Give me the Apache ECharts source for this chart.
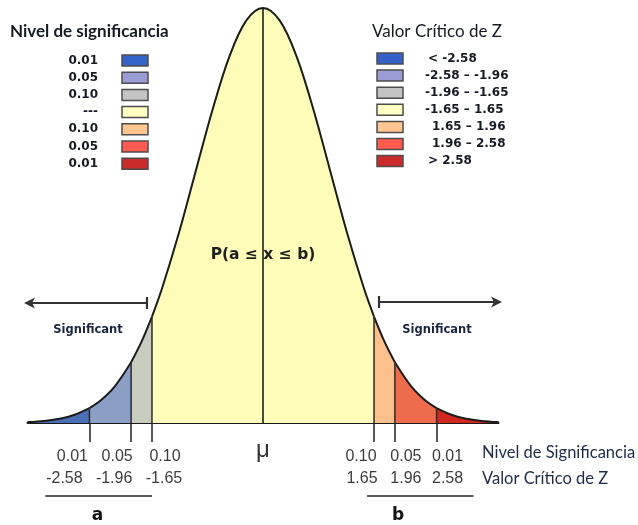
<!DOCTYPE html>
<html>
<head>
<meta charset="utf-8">
<script src="https://cdn.jsdelivr.net/npm/echarts/dist/echarts.min.js"></script>
<style>
  html, body { margin: 0; padding: 0; background: #ffffff; }
  #chart { width: 638px; height: 525px; }
</style>
</head>
<body>
<div id="chart"></div>
<script>
// Standard normal density, tabulated at the points used to draw the bell curve
const zValues = [-3.5, -3.25, -3.0, -2.8, -2.58, -2.4, -2.2, -1.96, -1.8, -1.65, -1.5, -1.25, -1.0, -0.75, -0.5, -0.25, 0,
                 0.25, 0.5, 0.75, 1.0, 1.25, 1.5, 1.65, 1.8, 1.96, 2.2, 2.4, 2.58, 2.8, 3.0, 3.25, 3.5];
const density = [0.0009, 0.0020, 0.0044, 0.0079, 0.0143, 0.0224, 0.0355, 0.0584, 0.0790, 0.1023, 0.1295, 0.1826, 0.2420, 0.3011, 0.3521, 0.3867, 0.3989,
                 0.3867, 0.3521, 0.3011, 0.2420, 0.1826, 0.1295, 0.1023, 0.0790, 0.0584, 0.0355, 0.0224, 0.0143, 0.0079, 0.0044, 0.0020, 0.0009];

// Critical values of Z and their significance levels
const criticalZ = [-2.58, -1.96, -1.65, 1.65, 1.96, 2.58];
const criticalLabels = ['-2.58', '-1.96', '-1.65', '1.65', '1.96', '2.58'];
const significance = ['0.01', '0.05', '0.10', '0.10', '0.05', '0.01'];
const meanZ = 0;

// Shaded regions under the curve
const regionBounds = [[-3.5, -2.58], [-2.58, -1.96], [-1.96, -1.65], [-1.65, 1.65], [1.65, 1.96], [1.96, 2.58], [2.58, 3.5]];

// Legend texts
const legendSignificance = ['0.01', '0.05', '0.10', '---', '0.10', '0.05', '0.01'];
const legendCritical = ['< -2.58', '-2.58 \u2013 -1.96', '-1.96 \u2013 -1.65', '-1.65 \u2013 1.65', '1.65 \u2013 1.96', '1.96 \u2013 2.58', '> 2.58'];

// ---- styling ----
const regionFill = ['#4a6fb6', '#8a9ec6', '#c8ccbe', '#fdfdb9', '#fbc08b', '#ee6b4c', '#d0281f'];
const swatchFill = ['#3462c8', '#9b9bd5', '#c3c3c3', '#ffffc3', '#ffc692', '#ff5b51', '#cb2b2b'];
const sigShift = [-17, -14, 13, -13, 11, 11];
const critShift = [-25, -17, 12, -12, 11, 11];
const critIndent = [3, 0, 0, 0, 7, 7, 3];
const inkColor = '#151a24';
const navyColor = '#1f2b4a';

function densityAt(z) {
  const i = zValues.findIndex(v => Math.abs(v - z) < 1e-9);
  return density[i];
}

const series = [];
regionBounds.forEach((b, k) => {
  const pts = zValues.map((z, i) => [z, density[i]]).filter(p => p[0] >= b[0] - 1e-9 && p[0] <= b[1] + 1e-9);
  series.push({
    type: 'line', name: 'region' + k, data: pts, smooth: 0.35, symbol: 'none', clip: false, silent: true, z: 2,
    lineStyle: { color: '#1c1c1c', width: 2 },
    areaStyle: { color: regionFill[k], opacity: 1 }
  });
});
criticalZ.forEach(z => {
  series.push({
    type: 'line', data: [[z, 0], [z, densityAt(z)]], symbol: 'none', clip: false, silent: true, z: 3,
    lineStyle: { color: '#2a2a2a', width: 1.5 }
  });
});
series.push({
  type: 'line', data: [[meanZ, 0], [meanZ, densityAt(meanZ)]], symbol: 'none', clip: false, silent: true, z: 3,
  lineStyle: { color: '#111111', width: 1.5 }
});

const chart = echarts.init(document.getElementById('chart'), null, { renderer: 'canvas' });
chart.setOption({
  animation: false,
  backgroundColor: '#ffffff',
  grid: { left: 27.5, top: 8, width: 471, height: 415 },
  xAxis: {
    type: 'value', min: -3.5, max: 3.5,
    axisLine: { show: true, onZero: false, lineStyle: { color: '#1a1a1a', width: 2 } },
    axisTick: { show: true, customValues: criticalZ, length: 19, lineStyle: { color: '#222', width: 1.5 } },
    axisLabel: { show: false },
    splitLine: { show: false }
  },
  yAxis: { type: 'value', min: 0, max: 0.3989, show: false },
  series: series
});

function px(z, d) { return chart.convertToPixel({ gridIndex: 0 }, [z, d]); }

const g = [];
const baseY = px(0, 0)[1];

// tick labels under the axis
criticalZ.forEach((z, i) => {
  const x = px(z, 0)[0];
  g.push({ type: 'text', x: x + sigShift[i], y: baseY + 34, style: { text: significance[i], font: '16px "Liberation Sans"', fill: '#3c3c3c', align: 'center', verticalAlign: 'middle' } });
  g.push({ type: 'text', x: x + critShift[i], y: baseY + 55.5, style: { text: criticalLabels[i], font: '16px "Liberation Sans"', fill: '#3c3c3c', align: 'center', verticalAlign: 'middle' } });
});
g.push({ type: 'text', x: px(meanZ, 0)[0], y: baseY + 27, style: { text: '\u03bc', font: '24px "Liberation Sans"', fill: '#333', align: 'center', verticalAlign: 'middle' } });

// row titles on the right of the axis labels
g.push({ type: 'text', x: 482, y: baseY + 30, style: { text: 'Nivel de Significancia', font: '16.5px Lato', fill: navyColor, verticalAlign: 'middle' } });
g.push({ type: 'text', x: 482, y: baseY + 55.5, style: { text: 'Valor Cr\u00edtico de Z', font: '16.5px Lato', fill: navyColor, verticalAlign: 'middle' } });

// bracket bars with a / b
const xa0 = px(criticalZ[0], 0)[0], xa1 = px(criticalZ[2], 0)[0];
const xb0 = px(criticalZ[3], 0)[0], xb1 = px(criticalZ[5], 0)[0];
g.push({ type: 'line', shape: { x1: xa0 - 44, y1: baseY + 73, x2: xa1, y2: baseY + 73 }, style: { stroke: '#222', lineWidth: 1.5 } });
g.push({ type: 'line', shape: { x1: xb0 - 7, y1: baseY + 73, x2: xb1 + 37, y2: baseY + 73 }, style: { stroke: '#222', lineWidth: 1.5 } });
g.push({ type: 'text', x: xa0 + 8, y: baseY + 93, style: { text: 'a', font: 'bold 17px "DejaVu Sans"', fill: '#111', align: 'center', verticalAlign: 'middle' } });
g.push({ type: 'text', x: xb0 + 24, y: baseY + 93, style: { text: 'b', font: 'bold 17px "DejaVu Sans"', fill: '#111', align: 'center', verticalAlign: 'middle' } });

// "Significant" arrows
const xl = px(criticalZ[2], 0)[0] - 5, xr = px(criticalZ[3], 0)[0] + 5;
const xL = px(-3.5, 0)[0] - 3.5, xR = px(3.5, 0)[0] + 3.5;
const arrowY = 303;
g.push({ type: 'line', shape: { x1: xL + 8, y1: arrowY, x2: xl, y2: arrowY }, style: { stroke: '#333', lineWidth: 2.2 } });
g.push({ type: 'line', shape: { x1: xl, y1: arrowY - 6, x2: xl, y2: arrowY + 6 }, style: { stroke: '#333', lineWidth: 2.2 } });
g.push({ type: 'polygon', shape: { points: [[xL, arrowY], [xL + 11, arrowY - 5.5], [xL + 8, arrowY], [xL + 11, arrowY + 5.5]] }, style: { fill: '#333' } });
g.push({ type: 'line', shape: { x1: xr, y1: arrowY - 1, x2: xR - 8, y2: arrowY - 1 }, style: { stroke: '#333', lineWidth: 2.2 } });
g.push({ type: 'line', shape: { x1: xr, y1: arrowY - 7, x2: xr, y2: arrowY + 5 }, style: { stroke: '#333', lineWidth: 2.2 } });
g.push({ type: 'polygon', shape: { points: [[xR, arrowY - 1], [xR - 11, arrowY - 6.5], [xR - 8, arrowY - 1], [xR - 11, arrowY + 4.5]] }, style: { fill: '#333' } });
g.push({ type: 'text', x: 88, y: 330, style: { text: 'Significant', font: 'bold 11.5px "DejaVu Sans"', fill: '#1a2540', align: 'center', verticalAlign: 'middle' } });
g.push({ type: 'text', x: 437, y: 330, style: { text: 'Significant', font: 'bold 11.5px "DejaVu Sans"', fill: '#1a2540', align: 'center', verticalAlign: 'middle' } });

// probability annotation
g.push({ type: 'text', x: px(meanZ, 0)[0], y: 255, z: 10, style: { text: 'P(a \u2264 x \u2264 b)', font: 'bold 15.5px "DejaVu Sans"', fill: '#1e1e1e', align: 'center', verticalAlign: 'middle' } });

// left legend: significance level
g.push({ type: 'text', x: 10, y: 32, style: { text: 'Nivel de significancia', font: 'bold 17px Lato', fill: inkColor, verticalAlign: 'middle' } });
legendSignificance.forEach((t, i) => {
  const y = 60.5 + 17.2 * i;
  g.push({ type: 'text', x: 98, y: y, style: { text: t, font: 'bold 12px "DejaVu Sans"', fill: inkColor, align: 'right', verticalAlign: 'middle' } });
  g.push({ type: 'rect', shape: { x: 122, y: y - 5.5, width: 26, height: 11 }, style: { fill: swatchFill[i], stroke: '#4d4d4d', lineWidth: 1.5 } });
});

// right legend: critical value of Z
g.push({ type: 'text', x: 372, y: 32, style: { text: 'Valor Cr\u00edtico de Z', font: '17px Lato', fill: inkColor, verticalAlign: 'middle' } });
legendCritical.forEach((t, i) => {
  const y = 58.5 + 17.1 * i;
  g.push({ type: 'rect', shape: { x: 377, y: y - 5.5, width: 26, height: 11 }, style: { fill: swatchFill[i], stroke: '#4d4d4d', lineWidth: 1.5 } });
  g.push({ type: 'text', x: 425 + critIndent[i], y: y, style: { text: t, font: 'bold 12px "DejaVu Sans"', fill: inkColor, align: 'left', verticalAlign: 'middle' } });
});

chart.setOption({ graphic: { elements: g } });
</script>
</body>
</html>
